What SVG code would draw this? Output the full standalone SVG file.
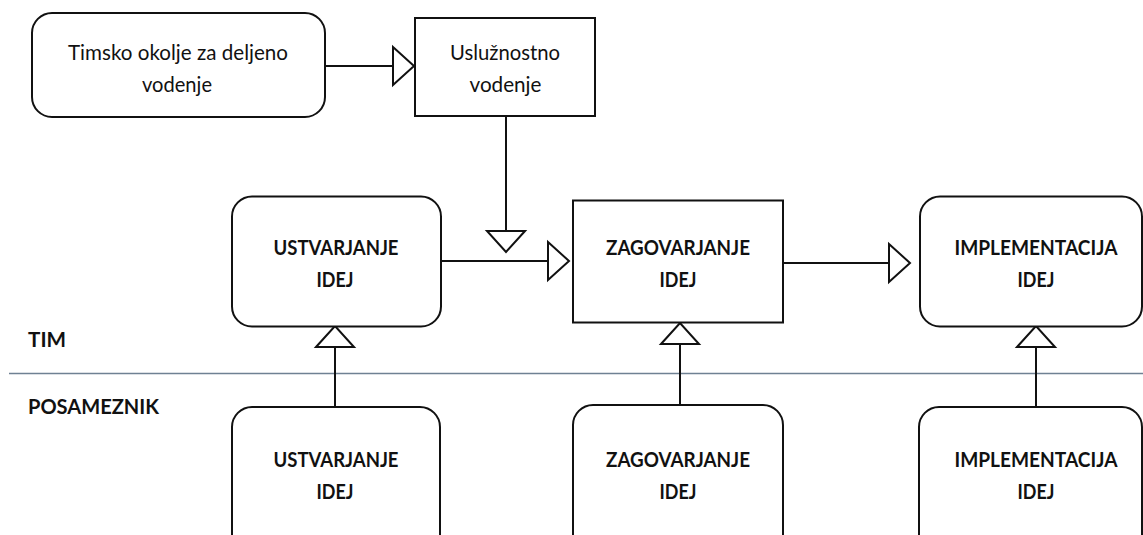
<svg xmlns="http://www.w3.org/2000/svg" width="1143" height="535" viewBox="0 0 1143 535">
  <style>
    .box { fill: #ffffff; stroke: #111111; stroke-width: 2; }
    .conn { fill: none; stroke: #111111; stroke-width: 2; }
    .txt { font-family: Lato, "Open Sans", "Liberation Sans", sans-serif; font-size: 21px; fill: #111111; text-anchor: middle; }
    .bold { font-weight: bold; }
    .lane { font-family: Lato, "Open Sans", "Liberation Sans", sans-serif; font-size: 21px; font-weight: bold; fill: #111111; }
    .sep { stroke: #6f8193; stroke-width: 1.5; }
  </style>
  <defs>
    <marker id="tri" markerUnits="userSpaceOnUse" viewBox="-2 -22 25 44" markerWidth="25" markerHeight="44" refX="0" refY="0" orient="auto" overflow="visible">
      <path d="M0,-19 L21,0 L0,19 Z" fill="#ffffff" stroke="#111111" stroke-width="2" stroke-linejoin="miter"/>
    </marker>
  </defs>
  <rect width="1143" height="535" fill="#ffffff"/>

  <g id="lanes">
    <line class="sep" x1="9" y1="373.5" x2="1143" y2="373.5"/>
    <text class="lane" x="28" y="347" textLength="38" lengthAdjust="spacingAndGlyphs">TIM</text>
    <text class="lane" x="28" y="414" textLength="131" lengthAdjust="spacingAndGlyphs">POSAMEZNIK</text>
  </g>

  <g id="connectors">
    <path class="conn" d="M325,66 H393" marker-end="url(#tri)"/>
    <path class="conn" d="M506,116 V231" marker-end="url(#tri)"/>
    <path class="conn" d="M441,261 H548" marker-end="url(#tri)"/>
    <path class="conn" d="M783,263 H889" marker-end="url(#tri)"/>
    <path class="conn" d="M335,407 V347" marker-end="url(#tri)"/>
    <path class="conn" d="M680,405 V344" marker-end="url(#tri)"/>
    <path class="conn" d="M1036,407 V347" marker-end="url(#tri)"/>
  </g>

  <g id="timsko-okolje">
    <rect class="box" x="32" y="13" width="293" height="104" rx="20" ry="20"/>
    <text class="txt" x="178" y="60" textLength="220" lengthAdjust="spacingAndGlyphs">Timsko okolje za deljeno</text>
    <text class="txt" x="177" y="92" textLength="70" lengthAdjust="spacingAndGlyphs">vodenje</text>
  </g>

  <g id="usluznostno-vodenje">
    <rect class="box" x="415" y="18" width="180" height="98"/>
    <text class="txt" x="505" y="60" textLength="110" lengthAdjust="spacingAndGlyphs">Uslužnostno</text>
    <text class="txt" x="505.5" y="92" textLength="72" lengthAdjust="spacingAndGlyphs">vodenje</text>
  </g>

  <g id="tim-ustvarjanje">
    <rect class="box" x="232" y="196.5" width="209" height="130" rx="20" ry="20"/>
    <text class="txt bold" x="336" y="255" textLength="125" lengthAdjust="spacingAndGlyphs">USTVARJANJE</text>
    <text class="txt bold" x="335" y="287" textLength="37" lengthAdjust="spacingAndGlyphs">IDEJ</text>
  </g>

  <g id="tim-zagovarjanje">
    <rect class="box" x="573" y="200.5" width="210" height="122"/>
    <text class="txt bold" x="678" y="255" textLength="144" lengthAdjust="spacingAndGlyphs">ZAGOVARJANJE</text>
    <text class="txt bold" x="678" y="287" textLength="37" lengthAdjust="spacingAndGlyphs">IDEJ</text>
  </g>

  <g id="tim-implementacija">
    <rect class="box" x="920" y="196.5" width="222" height="130" rx="20" ry="20"/>
    <text class="txt bold" x="1036" y="255" textLength="163" lengthAdjust="spacingAndGlyphs">IMPLEMENTACIJA</text>
    <text class="txt bold" x="1036" y="287" textLength="37" lengthAdjust="spacingAndGlyphs">IDEJ</text>
  </g>

  <g id="posameznik-ustvarjanje">
    <rect class="box" x="232" y="407" width="208" height="160" rx="20" ry="20"/>
    <text class="txt bold" x="336" y="467" textLength="125" lengthAdjust="spacingAndGlyphs">USTVARJANJE</text>
    <text class="txt bold" x="335" y="499" textLength="37" lengthAdjust="spacingAndGlyphs">IDEJ</text>
  </g>

  <g id="posameznik-zagovarjanje">
    <rect class="box" x="573" y="405" width="210" height="160" rx="20" ry="20"/>
    <text class="txt bold" x="678" y="467" textLength="144" lengthAdjust="spacingAndGlyphs">ZAGOVARJANJE</text>
    <text class="txt bold" x="678" y="499" textLength="37" lengthAdjust="spacingAndGlyphs">IDEJ</text>
  </g>

  <g id="posameznik-implementacija">
    <rect class="box" x="919" y="407" width="223" height="160" rx="20" ry="20"/>
    <text class="txt bold" x="1036" y="467" textLength="163" lengthAdjust="spacingAndGlyphs">IMPLEMENTACIJA</text>
    <text class="txt bold" x="1036" y="499" textLength="37" lengthAdjust="spacingAndGlyphs">IDEJ</text>
  </g>
</svg>
